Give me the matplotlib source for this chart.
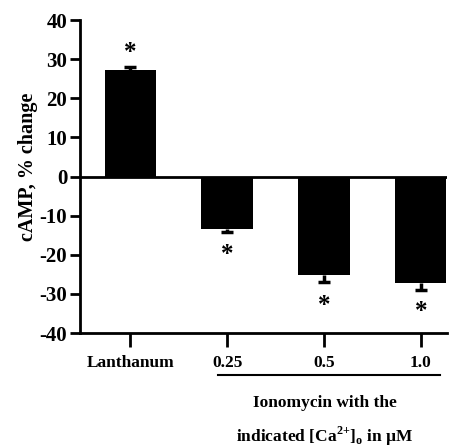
import matplotlib.pyplot as plt
import numpy as np

plt.rcParams['font.family'] = ['Liberation Serif', 'DejaVu Serif']
plt.rcParams['font.weight'] = 'bold'
plt.rcParams['axes.unicode_minus'] = False
plt.rcParams['mathtext.fontset'] = 'custom'
plt.rcParams['mathtext.bf'] = 'Liberation Serif:bold'
plt.rcParams['mathtext.rm'] = 'Liberation Serif:bold'

# data
groups = ['Lanthanum', '0.25', '0.5', '1.0']
change = [27.2, -13.4, -25.2, -27.2]
sem = [0.9, 0.8, 1.8, 1.8]
star_y = [31.8, -19.8, -33.0, -34.6]
yticks = [40, 30, 20, 10, 0, -10, -20, -30, -40]

fig = plt.figure(figsize=(4.67, 4.47), dpi=100)
ax = fig.add_axes([0.171, 0.255, 0.786, 0.70])

x = np.arange(len(groups))
ax.bar(x, change, width=0.53, color='black')
# one-sided error bars, drawn outward from the bar end
ends = [c + s if c > 0 else c - s for c, s in zip(change, sem)]
ax.vlines(x, change, ends, color='black', lw=2.5)
ax.plot(x, ends, ls='none', marker='_', ms=9, mew=2.5, color='black')
for xi, yi in zip(x, star_y):
    ax.text(xi, yi, '*', ha='center', va='center', fontsize=18, fontweight='bold')

ax.axhline(0, color='black', lw=2)
ax.set_xlim(-0.52, 3.27)
ax.set_ylim(-40, 40)
ax.set_yticks(yticks)
ax.set_xticks(x)
ax.set_xticklabels(groups, fontsize=12.5, fontweight='bold')
ax.tick_params(axis='y', labelsize=15, width=2, length=7, pad=2)
ax.tick_params(axis='x', width=2, length=10, pad=6)
for lab in ax.get_yticklabels():
    lab.set_fontweight('bold')
ax.spines['top'].set_visible(False)
ax.spines['right'].set_visible(False)
ax.spines['left'].set_linewidth(2)
ax.spines['bottom'].set_linewidth(2)
ax.set_ylabel('cAMP, % change', fontsize=14.5, fontweight='bold')
ax.yaxis.set_label_coords(-0.115, 0.53)

# group bracket under ionomycin concentrations
fig.add_artist(plt.Line2D([218 / 467, 440 / 467], [1 - 375 / 447, 1 - 375 / 447],
                          color='black', lw=1.5))
fig.text(325 / 467, 1 - 403 / 447, 'Ionomycin with the', ha='center', va='center',
         fontsize=12.5, fontweight='bold')
fig.text(325 / 467, 1 - 436 / 447, r'indicated [Ca$^{\mathbf{2{+}}}$]$_{\mathbf{o}}$ in µM',
         ha='center', va='center', fontsize=12.5, fontweight='bold')

fig.savefig('out.png', dpi=100)
